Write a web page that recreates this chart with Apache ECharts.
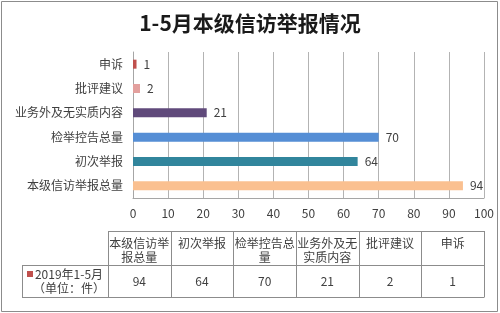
<!DOCTYPE html>
<html>
<head>
<meta charset="utf-8">
<script src="https://cdn.jsdelivr.net/npm/echarts@6/dist/echarts.min.js"></script>
<style>
html,body{margin:0;padding:0;background:#fff;}
#c{width:500px;height:313px;}
</style>
</head>
<body>
<div id="c"></div>
<script>
// ---- data ----
var titleText = '1-5月本级信访举报情况';
var categories = ['本级信访举报总量', '初次举报', '检举控告总量', '业务外及无实质内容', '批评建议', '申诉'];
var values = [94, 64, 70, 21, 2, 1];
var barColors = ['#FAC090', '#31859C', '#558ED5', '#604A7B', '#E3A09E', '#C0504D'];
var xTicks = [0, 10, 20, 30, 40, 50, 60, 70, 80, 90, 100];
var seriesNameLines = ['2019年1-5月', '（单位：件）'];
var legendColor = '#C0504D';

var FONT = '"Noto Sans CJK SC", "Noto Sans", sans-serif';
var TXT = '#404040';

var chart = echarts.init(document.getElementById('c'), null, {renderer: 'canvas'});

// table layout
var tblLeft = 108, tblRight = 484, tblTop = 231, rowSep = 265, tblBottom = 297.5, legLeft = 22;
var colW = (tblRight - tblLeft) / categories.length;

function chunk(s, n) {
  var out = [];
  for (var i = 0; i < s.length; i += n) out.push(s.slice(i, i + n));
  return out.join('\n');
}

var graphics = [];
// outer border
graphics.push({type: 'rect', shape: {x: 1.5, y: 1.5, width: 496, height: 310},
  style: {fill: 'none', stroke: '#8c8c8c', lineWidth: 1}, silent: true});

var lineStyle = {stroke: '#8c8c8c', lineWidth: 1};
function hline(x1, x2, y) {
  graphics.push({type: 'line', shape: {x1: x1, y1: y, x2: x2, y2: y}, style: lineStyle, silent: true});
}
function vline(x, y1, y2) {
  graphics.push({type: 'line', shape: {x1: x, y1: y1, x2: x, y2: y2}, style: lineStyle, silent: true});
}
hline(tblLeft, tblRight, tblTop + 0.5);
hline(legLeft, tblRight, rowSep + 0.5);
hline(legLeft, tblRight, tblBottom);
vline(legLeft + 0.5, rowSep, tblBottom);
for (var i = 0; i <= categories.length; i++) {
  var x = Math.round(tblLeft + i * colW) + 0.5;
  vline(x, tblTop, tblBottom);
}
categories.forEach(function (cat, i) {
  var cx = tblLeft + (i + 0.5) * colW;
  graphics.push({type: 'text', x: cx, y: tblTop + 5, silent: true,
    style: {text: chunk(cat, 5), fill: TXT, font: '12px ' + FONT, align: 'center', verticalAlign: 'top', lineHeight: 14}});
  graphics.push({type: 'text', x: cx, y: (rowSep + tblBottom) / 2, silent: true,
    style: {text: String(values[i]), fill: TXT, font: '12px ' + FONT, align: 'center', verticalAlign: 'middle'}});
});
// legend cell
graphics.push({type: 'rect', shape: {x: 27, y: 271, width: 6, height: 6}, style: {fill: legendColor}, silent: true});
graphics.push({type: 'text', x: 69, y: 274, silent: true,
  style: {text: seriesNameLines[0], fill: TXT, font: '12px ' + FONT, align: 'center', verticalAlign: 'middle'}});
graphics.push({type: 'text', x: 69, y: 288, silent: true,
  style: {text: seriesNameLines[1], fill: TXT, font: '12px ' + FONT, align: 'center', verticalAlign: 'middle'}});

chart.setOption({
  animation: false,
  backgroundColor: '#fff',
  title: {
    text: titleText, left: 'center', top: 8,
    textStyle: {fontFamily: FONT, fontSize: 21, fontWeight: 'bold', color: '#1a1a1a'}
  },
  grid: {left: 133, right: 16, top: 52, bottom: 115, containLabel: false},
  xAxis: {
    type: 'value', min: xTicks[0], max: xTicks[xTicks.length - 1], interval: xTicks[1] - xTicks[0],
    axisLine: {show: true, lineStyle: {color: '#a6a6a6'}},
    axisTick: {show: false},
    splitLine: {show: true, lineStyle: {color: '#b3b3b3', width: 1}},
    axisLabel: {color: TXT, fontSize: 12, fontFamily: FONT, margin: 9}
  },
  yAxis: {
    type: 'category', data: categories,
    axisLine: {show: true, lineStyle: {color: '#a6a6a6'}},
    axisTick: {show: false},
    axisLabel: {color: TXT, fontSize: 12, fontFamily: FONT, margin: 10}
  },
  series: [{
    type: 'bar',
    data: values.map(function (v, i) { return {value: v, itemStyle: {color: barColors[i]}}; }),
    barWidth: 9,
    label: {show: true, position: 'right', distance: 7, color: TXT, fontSize: 12, fontFamily: FONT}
  }],
  graphic: graphics
});
</script>
</body>
</html>
